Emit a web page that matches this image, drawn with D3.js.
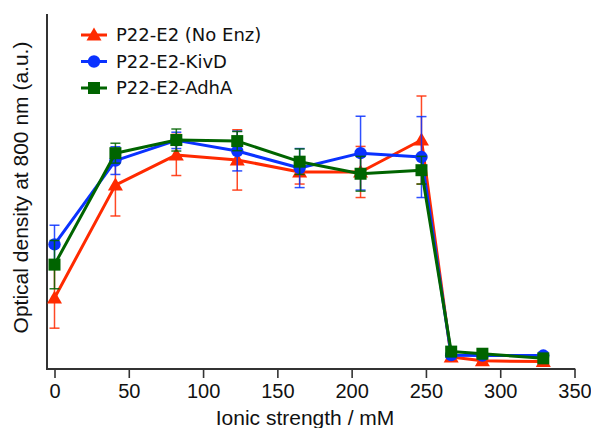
<!DOCTYPE html>
<html><head><meta charset="utf-8">
<script src="https://cdn.jsdelivr.net/npm/d3@7"></script>
<style>html,body{margin:0;padding:0;background:#fff;overflow:hidden}</style>
</head><body>
<svg id="chart" width="591" height="428"></svg>
<script>
const ionic = [0, 41, 82, 123, 165, 206, 247, 267, 288, 329];
const noEnz = [0.200, 0.518, 0.603, 0.589, 0.555, 0.555, 0.645, 0.034, 0.023, 0.021];
const noEnzErr = [0.085, 0.087, 0.058, 0.085, 0.034, 0.072, 0.124, 0.005, 0.004, 0.004];
const kivD = [0.351, 0.587, 0.644, 0.614, 0.566, 0.608, 0.597, 0.039, 0.038, 0.038];
const kivDErr = [0.054, 0.039, 0.023, 0.056, 0.055, 0.104, 0.114, 0.005, 0.004, 0.004];
const adhA = [0.294, 0.608, 0.645, 0.642, 0.584, 0.550, 0.560, 0.049, 0.043, 0.030];
const adhAErr = [0.068, 0.028, 0.031, 0.027, 0.036, 0.049, 0.039, 0.005, 0.004, 0.004];
const xTicks = [0, 50, 100, 150, 200, 250, 300, 350];
const seriesNames = ["P22-E2 (No Enz)", "P22-E2-KivD", "P22-E2-AdhA"];

const series = [
  {name: seriesNames[0], vals: noEnz, err: noEnzErr, color: "#ff2a00", shape: "tri"},
  {name: seriesNames[1], vals: kivD, err: kivDErr, color: "#0a32ff", shape: "circ"},
  {name: seriesNames[2], vals: adhA, err: adhAErr, color: "#006400", shape: "sq"}
];

const svg = d3.select("#chart");
const x = d3.scaleLinear().domain([0, 350]).range([54.5, 574.5]);
const y = d3.scaleLinear().domain([0, 1]).range([369, 14]);
const axisColor = "#333";

// x axis
const xAxis = d3.axisBottom(x).tickValues(xTicks).tickSize(9).tickPadding(6).tickSizeOuter(0);
const gx = svg.append("g").attr("transform", "translate(0,369)").call(xAxis);
gx.select(".domain").remove();
gx.selectAll(".tick line").attr("stroke", axisColor).attr("stroke-width", 1.6);
gx.selectAll(".tick text").attr("font-family", "'Liberation Sans', Arial, sans-serif")
  .attr("font-size", 20).attr("fill", "#111").attr("dy", "0.71em");
// spines
svg.append("line").attr("x1", 47).attr("x2", x(350) + 0.8).attr("y1", 369).attr("y2", 369)
  .attr("stroke", axisColor).attr("stroke-width", 2);
svg.append("line").attr("x1", 47).attr("x2", 47).attr("y1", 14).attr("y2", 370)
  .attr("stroke", axisColor).attr("stroke-width", 2);

// axis labels
svg.append("text").attr("x", 305).attr("y", 425).attr("text-anchor", "middle")
  .attr("font-family", "'Liberation Sans', Arial, sans-serif").attr("font-size", 21)
  .attr("fill", "#111").text("Ionic strength / mM");
svg.append("text").attr("transform", "translate(28,187.5) rotate(-90)").attr("text-anchor", "middle")
  .attr("font-family", "'Liberation Sans', Arial, sans-serif").attr("font-size", 21)
  .attr("fill", "#111").text("Optical density at 800 nm (a.u.)");

function marker(g, shape, cx, cy, color) {
  if (shape === "tri") {
    g.append("path").attr("d", `M${cx},${cy-7.5}L${cx+7.5},${cy+5.5}L${cx-7.5},${cy+5.5}Z`).attr("fill", color);
  } else if (shape === "circ") {
    g.append("circle").attr("cx", cx).attr("cy", cy).attr("r", 6.2).attr("fill", color);
  } else {
    g.append("rect").attr("x", cx-6).attr("y", cy-6).attr("width", 12).attr("height", 12).attr("fill", color);
  }
}

const line = d3.line().x(d => x(d[0])).y(d => y(d[1]));
series.forEach(s => {
  const g = svg.append("g");
  // error bars
  ionic.forEach((xv, i) => {
    const cx = x(xv), top = y(s.vals[i] + s.err[i]), bot = y(s.vals[i] - s.err[i]);
    g.append("line").attr("x1", cx).attr("x2", cx).attr("y1", top).attr("y2", bot)
      .attr("stroke", s.color).attr("stroke-width", 1.5).attr("opacity", 0.85);
    [top, bot].forEach(yy => g.append("line").attr("x1", cx-5).attr("x2", cx+5).attr("y1", yy).attr("y2", yy)
      .attr("stroke", s.color).attr("stroke-width", 1.5).attr("opacity", 0.85));
  });
  g.append("path").attr("d", line(ionic.map((xv, i) => [xv, s.vals[i]])))
    .attr("fill", "none").attr("stroke", s.color).attr("stroke-width", 3).attr("stroke-linejoin", "round");
  ionic.forEach((xv, i) => marker(g, s.shape, x(xv), y(s.vals[i]), s.color));
});

// legend
const legY = [35, 61.5, 88];
series.forEach((s, i) => {
  const g = svg.append("g");
  g.append("line").attr("x1", 81).attr("x2", 107).attr("y1", legY[i]).attr("y2", legY[i])
    .attr("stroke", s.color).attr("stroke-width", 3);
  marker(g, s.shape, 94, legY[i], s.color);
  g.append("text").attr("x", 116).attr("y", legY[i]).attr("dy", "0.36em")
    .attr("font-family", "'DejaVu Sans', sans-serif").attr("font-size", 18).attr("fill", "#111").text(s.name);
});
</script>
</body></html>
